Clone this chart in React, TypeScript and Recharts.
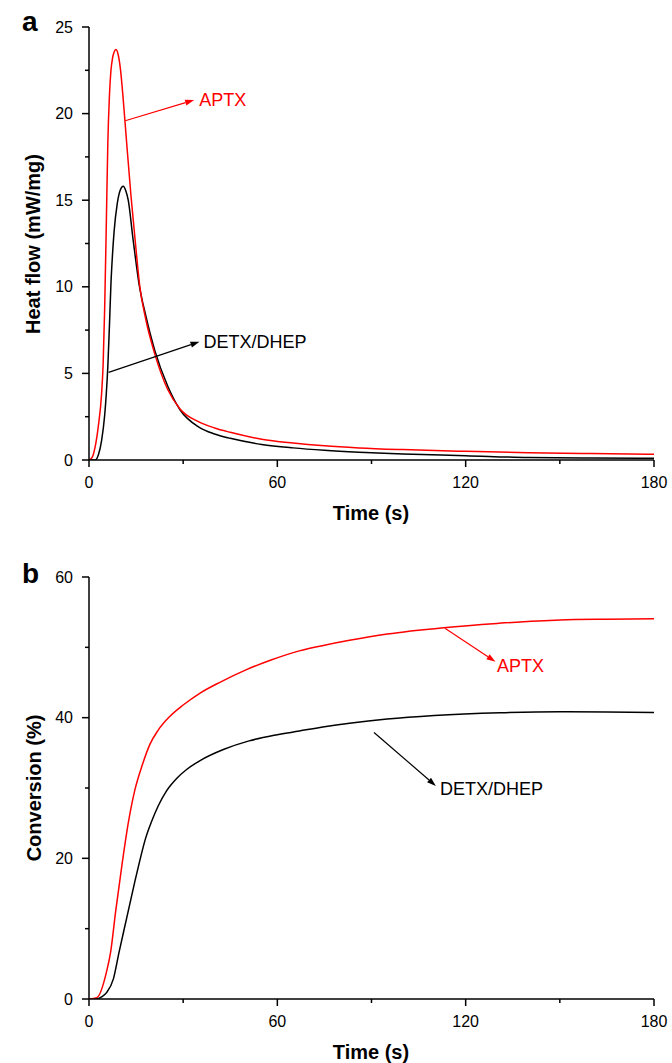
import { LineChart, Line, XAxis, YAxis, ReferenceLine, ReferenceDot } from 'recharts';

// heat flow (mW/mg) vs time (s)
const heatTimeAPTX = [0, 1, 2, 3, 4, 4.5, 5, 5.5, 6, 6.5, 7, 7.5, 8, 8.6, 9.3, 10, 11, 12, 13.4, 14.8, 16.2, 18, 21, 25, 29, 35, 40, 45, 55, 65, 75, 86, 100, 120, 140, 160, 180];
const heatAPTX = [0, 0.15, 0.8, 2.0, 3.8, 5.5, 8.8, 13.5, 18.3, 21.0, 22.5, 23.2, 23.55, 23.7, 23.4, 22.6, 20.6, 18.3, 15.2, 12.5, 10, 8.2, 6.1, 4.1, 2.95, 2.2, 1.85, 1.6, 1.2, 0.98, 0.82, 0.7, 0.6, 0.5, 0.42, 0.37, 0.33];
const heatTimeDETX = [0, 2, 3, 4, 5, 5.5, 6, 6.5, 7, 7.5, 8, 9, 10, 10.9, 11.8, 12.5, 14, 16, 18, 21, 25, 29, 35, 40, 45, 55, 65, 75, 86, 100, 120, 140, 160, 180];
const heatDETX = [0, 0, 0.3, 1.1, 2.6, 3.8, 5.4, 7.7, 10.2, 11.9, 13.2, 14.8, 15.6, 15.8, 15.5, 15.0, 12.8, 10.1, 8.4, 6.3, 4.3, 2.9, 1.9, 1.5, 1.25, 0.9, 0.7, 0.56, 0.45, 0.35, 0.25, 0.14, 0.11, 0.1];

// conversion (%) vs time (s)
const convTimeAPTX = [0, 2.5, 5.6, 6.9, 8.5, 10.7, 12.5, 14.6, 17, 19.4, 22, 25.8, 30, 35.4, 42, 50, 58, 67, 75, 83, 95, 113, 130, 150, 165, 180];
const convAPTX = [0, 0.2, 3.9, 6.7, 12.5, 19.7, 25, 29.7, 33.3, 36.2, 38.2, 40.2, 41.8, 43.5, 45.1, 46.8, 48.2, 49.5, 50.3, 51.0, 51.9, 52.8, 53.4, 53.9, 54.0, 54.05];
const convTimeDETX = [0, 2.5, 4, 5.6, 7.8, 9.6, 12, 14.6, 16.2, 18, 20, 22, 24.7, 28, 31, 35.4, 43, 51, 59, 67, 75, 83, 95, 110, 131, 150, 165, 180];
const convDETX = [0, 0, 0.3, 0.9, 2.9, 6.7, 11.5, 16.7, 19.7, 22.8, 25.3, 27.4, 29.6, 31.4, 32.6, 33.9, 35.5, 36.7, 37.5, 38.1, 38.7, 39.2, 39.8, 40.3, 40.7, 40.85, 40.8, 40.75];

const timeTicks = [0, 30, 60, 90, 120, 150, 180];
const heatTicks = [0, 2.5, 5, 7.5, 10, 12.5, 15, 17.5, 20, 22.5, 25];
const convTicks = [0, 10, 20, 30, 40, 50, 60];

// annotations: arrow [x1, y1, x2, y2] and text anchor, in data units
const heatNotes = [
  { name: 'APTX', color: '#ff0000', pts: [11.55, 19.59, 33.5, 20.78], text: [35.1, 20.8] },
  { name: 'DETX/DHEP', color: '#000000', pts: [6.24, 5.06, 35.2, 6.83], text: [36.5, 6.83] },
];
const convNotes = [
  { name: 'APTX', color: '#ff0000', pts: [113.4, 52.7, 129.5, 47.95], text: [130, 47.3] },
  { name: 'DETX/DHEP', color: '#000000', pts: [90.8, 37.9, 110.5, 30.3], text: [111.8, 29.8] },
];

const zip = (ts: number[], vs: number[]) => ts.map((t, i) => ({ t, v: vs[i] }));

const font = '"Liberation Sans", Arial, sans-serif';

const XTick = ({ x, y, payload }: any) => {
  const major = payload.value % 60 === 0;
  return (
    <g>
      <line x1={x} y1={y} x2={x} y2={y + (major ? 7 : 4)} stroke="#000" strokeWidth={1.5} />
      {major && (
        <text x={x} y={y + 22} textAnchor="middle" dominantBaseline="central" fontSize={16} fontFamily={font} fill="#000">
          {payload.value}
        </text>
      )}
    </g>
  );
};

const makeYTick = (step: number) => ({ x, y, payload }: any) => {
  const major = payload.value % step === 0;
  return (
    <g>
      <line x1={x - (major ? 7 : 4)} y1={y} x2={x} y2={y} stroke="#000" strokeWidth={1.5} />
      {major && (
        <text x={x - 16} y={y} textAnchor="end" dominantBaseline="central" fontSize={16} fontFamily={font} fill="#000">
          {payload.value}
        </text>
      )}
    </g>
  );
};

const arrowShape = (color: string) => (p: any) => {
  const { x1, y1, x2, y2 } = p;
  const a = Math.atan2(y2 - y1, x2 - x1);
  const len = 9;
  const w = 3;
  const bx = x2 - len * Math.cos(a);
  const by = y2 - len * Math.sin(a);
  const px = -Math.sin(a) * w;
  const py = Math.cos(a) * w;
  return (
    <g>
      <line x1={x1} y1={y1} x2={bx} y2={by} stroke={color} strokeWidth={1.2} />
      <polygon points={`${x2},${y2} ${bx + px},${by + py} ${bx - px},${by - py}`} fill={color} />
    </g>
  );
};

const labelShape = (name: string, color: string) => (p: any) => (
  <text x={p.cx} y={p.cy} dominantBaseline="central" fontSize={18} fontFamily={font} fill={color}>
    {name}
  </text>
);

const axisLine = { stroke: '#000', strokeWidth: 1.5 };

function Panel({ height, top, xAxisHeight, yDomain, yTicks, yStep, red, black, notes }: any) {
  return (
    <LineChart width={672} height={height} margin={{ top, right: 18, left: 29, bottom: 0 }}>
      <XAxis
        dataKey="t"
        type="number"
        domain={[0, 180]}
        ticks={timeTicks}
        tick={XTick}
        tickLine={false}
        tickSize={0}
        tickMargin={0}
        axisLine={axisLine}
        height={xAxisHeight}
        allowDataOverflow
      />
      <YAxis
        type="number"
        domain={yDomain}
        ticks={yTicks}
        tick={makeYTick(yStep)}
        tickLine={false}
        tickSize={0}
        tickMargin={0}
        axisLine={axisLine}
        width={60}
        allowDataOverflow
      />
      <Line data={black} dataKey="v" type="monotone" stroke="#000" strokeWidth={1.5} dot={false} isAnimationActive={false} />
      <Line data={red} dataKey="v" type="monotone" stroke="#ff0000" strokeWidth={1.5} dot={false} isAnimationActive={false} />
      {notes.map((n: any) => (
        <ReferenceLine
          key={n.name + 'l'}
          segment={[{ x: n.pts[0], y: n.pts[1] }, { x: n.pts[2], y: n.pts[3] }]}
          shape={arrowShape(n.color)}
        />
      ))}
      {notes.map((n: any) => (
        <ReferenceDot key={n.name + 't'} x={n.text[0]} y={n.text[1]} r={0} shape={labelShape(n.name, n.color)} />
      ))}
    </LineChart>
  );
}

export default function App() {
  const titleStyle = { fontFamily: font, fontWeight: 'bold' as const, fill: '#000' };
  return (
    <div style={{ position: 'absolute', left: 0, top: 0, width: 672, height: 1063, background: '#fff' }}>
      <div style={{ position: 'absolute', left: 0, top: 0 }}>
        <Panel
          height={540}
          top={27}
          xAxisHeight={80}
          yDomain={[0, 25]}
          yTicks={heatTicks}
          yStep={5}
          red={zip(heatTimeAPTX, heatAPTX)}
          black={zip(heatTimeDETX, heatDETX)}
          notes={heatNotes}
        />
      </div>
      <div style={{ position: 'absolute', left: 0, top: 540 }}>
        <Panel
          height={523}
          top={37}
          xAxisHeight={64}
          yDomain={[0, 60]}
          yTicks={convTicks}
          yStep={20}
          red={zip(convTimeAPTX, convAPTX)}
          black={zip(convTimeDETX, convDETX)}
          notes={convNotes}
        />
      </div>
      <svg width={672} height={1063} style={{ position: 'absolute', left: 0, top: 0, pointerEvents: 'none' }}>
        <text x={22} y={31} fontSize={28} {...titleStyle}>a</text>
        <text x={22} y={583} fontSize={28} {...titleStyle}>b</text>
        <text x={33} y={244} fontSize={20} textAnchor="middle" dominantBaseline="central" transform="rotate(-90 33 244)" {...titleStyle}>
          Heat flow (mW/mg)
        </text>
        <text x={34} y={788} fontSize={20} textAnchor="middle" dominantBaseline="central" transform="rotate(-90 34 788)" {...titleStyle}>
          Conversion (%)
        </text>
        <text x={371} y={513} fontSize={20} textAnchor="middle" dominantBaseline="central" {...titleStyle}>
          Time (s)
        </text>
        <text x={371} y={1052} fontSize={20} textAnchor="middle" dominantBaseline="central" {...titleStyle}>
          Time (s)
        </text>
      </svg>
    </div>
  );
}
